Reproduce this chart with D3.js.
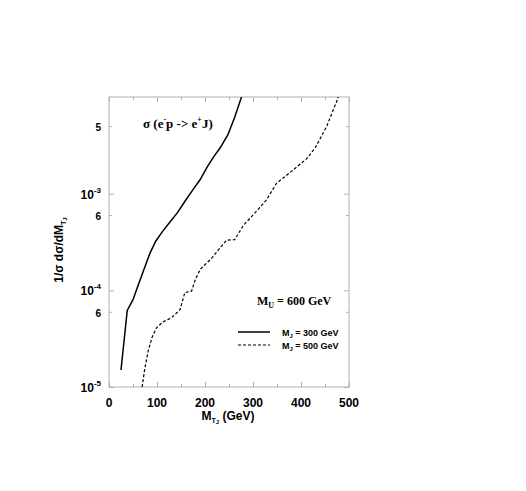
<!DOCTYPE html>
<html>
<head>
<meta charset="utf-8">
<script src="https://cdn.jsdelivr.net/npm/d3@7"></script>
<style>
  body { margin: 0; background: #fff; }
  .serif { font-family: "Liberation Serif", "Times New Roman", serif; font-weight: bold; }
  .sans { font-family: "Liberation Sans", Arial, sans-serif; font-weight: bold; }
</style>
</head>
<body>
<svg width="526" height="491"></svg>
<script>
// M_J = 300 GeV (solid)
const mj300X = [25, 38, 50, 60, 72, 85, 97, 112, 127, 143, 160, 175, 190, 205, 218, 232, 248, 262, 276];
const mj300Y = [1.5e-5, 6.2e-5, 8e-5, 1.1e-4, 1.6e-4, 2.4e-4, 3.2e-4, 4.1e-4, 5.1e-4, 6.4e-4, 8.6e-4,
                1.1e-3, 1.4e-3, 1.9e-3, 2.4e-3, 3.0e-3, 4.1e-3, 6.2e-3, 1.0e-2];
// M_J = 500 GeV (dashed)
const mj500X = [69, 75, 82, 90, 99, 112, 130, 148, 158, 172, 180, 190, 214, 230, 245, 262, 280, 305,
                328, 349, 380, 412, 430, 453, 478];
const mj500Y = [1.0e-5, 1.6e-5, 2.4e-5, 3.3e-5, 4.1e-5, 4.7e-5, 5.2e-5, 6.3e-5, 9.5e-5, 9.8e-5, 1.3e-4,
                1.65e-4, 2.15e-4, 2.7e-4, 3.3e-4, 3.35e-4, 4.7e-4, 6.4e-4, 8.6e-4, 1.28e-3, 1.7e-3,
                2.3e-3, 3.0e-3, 4.9e-3, 1.0e-2];

const xTicks = [0, 100, 200, 300, 400, 500];
const xMinor = [50, 150, 250, 350, 450];
const yMajor = [1e-5, 1e-4, 1e-3];
const yMajorExp = ["-5", "-4", "-3"];
const yMinor = [6e-5, 6e-4, 5e-3];
const yMinorLabels = ["6", "6", "5"];

const svg = d3.select("svg");
const pLeft = 109, pRight = 349, pTop = 97, pBottom = 387;

const x = d3.scaleLinear().domain([0, 500]).range([pLeft, pRight]);
const y = d3.scaleLog().domain([1e-5, 1e-2]).range([pBottom, pTop]);

const axisColor = "#b0b0b0";

// frame
svg.append("rect")
  .attr("x", pLeft).attr("y", pTop)
  .attr("width", pRight - pLeft).attr("height", pBottom - pTop)
  .attr("fill", "none").attr("stroke", axisColor).attr("stroke-width", 1);

// ticks via d3 axes (inward, no labels)
function tickAxis(axis, transform) {
  const g = svg.append("g").attr("transform", transform).call(axis);
  g.select(".domain").remove();
  g.selectAll("line").attr("stroke", axisColor);
  g.selectAll("text").remove();
}
tickAxis(d3.axisBottom(x).tickValues(xTicks).tickSize(-5), `translate(0,${pBottom})`);
tickAxis(d3.axisBottom(x).tickValues(xMinor).tickSize(-3), `translate(0,${pBottom})`);
tickAxis(d3.axisTop(x).tickValues(xTicks).tickSize(-5), `translate(0,${pTop})`);
tickAxis(d3.axisTop(x).tickValues(xMinor).tickSize(-3), `translate(0,${pTop})`);
tickAxis(d3.axisLeft(y).tickValues(yMajor).tickSize(-5), `translate(${pLeft},0)`);
tickAxis(d3.axisLeft(y).tickValues(yMinor).tickSize(-3), `translate(${pLeft},0)`);
tickAxis(d3.axisRight(y).tickValues(yMajor).tickSize(-5), `translate(${pRight},0)`);
tickAxis(d3.axisRight(y).tickValues(yMinor).tickSize(-3), `translate(${pRight},0)`);

// x tick labels
svg.selectAll(".xl").data(xTicks).enter().append("text")
  .attr("class", "sans")
  .attr("x", d => x(d)).attr("y", pBottom + 20)
  .attr("text-anchor", "middle").attr("font-size", 12)
  .text(d => d);

// y tick labels
yMajor.forEach((v, i) => {
  const t = svg.append("text").attr("class", "sans")
    .attr("x", pLeft - 8).attr("y", y(v) + 5)
    .attr("text-anchor", "end").attr("font-size", 12);
  t.append("tspan").text("10");
  t.append("tspan").attr("dy", -6).attr("font-size", 8).text(yMajorExp[i]);
});
yMinor.forEach((v, i) => {
  svg.append("text").attr("class", "sans")
    .attr("x", pLeft - 8).attr("y", y(v) + 5)
    .attr("text-anchor", "end").attr("font-size", 10)
    .text(yMinorLabels[i]);
});

// axis titles
const xt = svg.append("text").attr("class", "sans")
  .attr("x", 228).attr("y", 420).attr("text-anchor", "middle").attr("font-size", 12);
xt.append("tspan").text("M");
xt.append("tspan").attr("dy", 3).attr("font-size", 7).text("T");
xt.append("tspan").attr("dy", 1).attr("font-size", 6).text("J");
xt.append("tspan").attr("dy", -4).text(" (GeV)");

const yt = svg.append("text").attr("class", "sans")
  .attr("transform", "translate(63,250) rotate(-90)")
  .attr("text-anchor", "middle").attr("font-size", 12);
yt.append("tspan").text("1/σ dσ/dM");
yt.append("tspan").attr("dy", 3).attr("font-size", 7).text("T");
yt.append("tspan").attr("dy", 1).attr("font-size", 6).text("J");

// curves
svg.append("clipPath").attr("id", "clip")
  .append("rect").attr("x", pLeft).attr("y", pTop).attr("width", pRight - pLeft).attr("height", pBottom - pTop);

const line = d3.line().x(d => x(d[0])).y(d => y(d[1]));

svg.append("path")
  .datum(d3.zip(mj300X, mj300Y))
  .attr("clip-path", "url(#clip)")
  .attr("d", line).attr("fill", "none").attr("stroke", "#000").attr("stroke-width", 1.5);

svg.append("path")
  .datum(d3.zip(mj500X, mj500Y))
  .attr("clip-path", "url(#clip)")
  .attr("d", line).attr("fill", "none").attr("stroke", "#000").attr("stroke-width", 1.2)
  .attr("stroke-dasharray", "3,2");

// process label
const pl = svg.append("text").attr("class", "serif")
  .attr("x", 143).attr("y", 128).attr("font-size", 13);
pl.append("tspan").text("σ (e");
pl.append("tspan").attr("dy", -6).attr("font-size", 8).text("-");
pl.append("tspan").attr("dy", 6).text("p -> e");
pl.append("tspan").attr("dy", -6).attr("font-size", 8).text("+");
pl.append("tspan").attr("dy", 6).text("J)");

// M_U label
const mu = svg.append("text").attr("class", "serif")
  .attr("x", 257).attr("y", 305).attr("font-size", 12);
mu.append("tspan").text("M");
mu.append("tspan").attr("dy", 3).attr("font-size", 8).text("U");
mu.append("tspan").attr("dy", -3).text(" = 600 GeV");

// legend
const legend = [
  { label: "300 GeV", dash: null, w: 1.5 },
  { label: "500 GeV", dash: "3,2", w: 1.2 }
];
legend.forEach((d, i) => {
  const ly = 332 + i * 13;
  svg.append("line")
    .attr("x1", 238).attr("x2", 270).attr("y1", ly).attr("y2", ly)
    .attr("stroke", "#000").attr("stroke-width", d.w)
    .attr("stroke-dasharray", d.dash);
  const t = svg.append("text").attr("class", "sans")
    .attr("x", 282).attr("y", ly + 4).attr("font-size", 9);
  t.append("tspan").text("M");
  t.append("tspan").attr("dy", 2).attr("font-size", 6).text("J");
  t.append("tspan").attr("dy", -2).text(" = " + d.label);
});
</script>
</body>
</html>
